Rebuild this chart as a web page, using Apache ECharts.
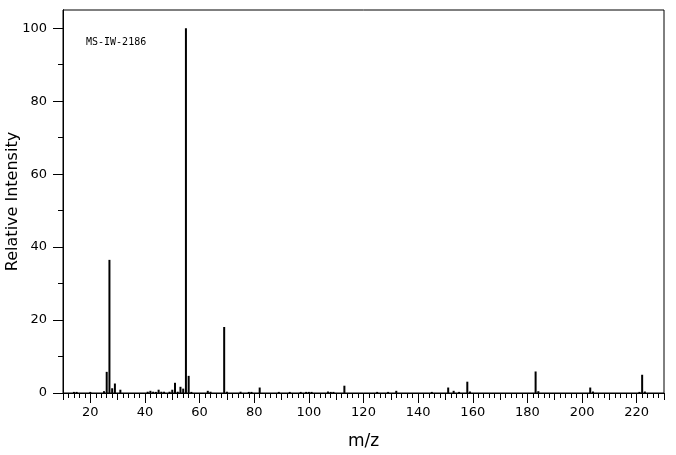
<!DOCTYPE html>
<html>
<head>
<meta charset="utf-8">
<script src="https://cdn.jsdelivr.net/npm/echarts@6/dist/echarts.min.js"></script>
<style>html,body{margin:0;padding:0;background:#fff}#c{width:676px;height:455px}</style>
</head>
<body>
<div id="c"></div>
<script>
// m/z values of the peaks
var mzValues = [14,15,20,25,26,27,28,29,31,41,42,43,44,45,46,47,49,50,51,52,53,54,55,56,57,63,64,69,70,75,78,79,82,89,93,97,99,100,101,107,108,109,113,125,129,132,145,151,153,155,158,159,183,184,203,204,221,222,223];
// relative intensities (%)
var intensities = [0.3,0.3,0.3,0.5,5.8,36.5,1.3,2.6,0.9,0.35,0.6,0.35,0.3,0.9,0.35,0.35,0.35,0.9,2.8,0.35,1.7,1.2,100,4.7,0.3,0.6,0.35,18.1,0.35,0.35,0.3,0.3,1.5,0.3,0.3,0.3,0.3,0.3,0.3,0.4,0.3,0.3,2.0,0.3,0.3,0.6,0.3,1.5,0.6,0.3,3.1,0.4,5.9,0.5,1.5,0.4,0.3,5.0,0.4];
// tick labels
var xTickLabels = [20,40,60,80,100,120,140,160,180,200,220];
var xMidTicks = [10,30,50,70,90,110,130,150,170,190,210,230];
var xMinorTicks = [];
for (var t = 10; t <= 230; t += 2) xMinorTicks.push(t);
var yTickLabels = [0,20,40,60,80,100];
var yMinorTicks = [10,30,50,70,90];
var sampleName = 'MS-IW-2186';

var peaks = mzValues.map(function (m, i) { return [m, intensities[i]]; });

var X_MIN = 10, X_MAX = 230, Y_MIN = 0, Y_MAX = 105;
var font = 'DejaVu Sans';

function xAxisDef(ticks, len, showLabels, withName) {
  var a = {
    type: 'value', min: X_MIN, max: X_MAX, position: 'bottom',
    axisLine: { show: true, onZero: false, lineStyle: { color: '#000', width: 1 } },
    axisTick: { show: true, length: len, customValues: ticks, lineStyle: { color: '#000', width: 1 } },
    axisLabel: showLabels ? { show: true, customValues: xTickLabels, margin: 13, color: '#000', fontFamily: font, fontSize: 13 } : { show: false },
    splitLine: { show: false }
  };
  if (withName) {
    a.name = 'm/z'; a.nameLocation = 'middle'; a.nameGap = 40; a.nameMoveOverlap = false;
    a.nameTextStyle = { color: '#000', fontFamily: font, fontSize: 17 };
  }
  return a;
}
function yAxisDef(ticks, len, showLabels, withName) {
  var a = {
    type: 'value', min: Y_MIN, max: Y_MAX, position: 'left',
    axisLine: { show: true, onZero: false, lineStyle: { color: '#000', width: 1 } },
    axisTick: { show: true, length: len, customValues: ticks, lineStyle: { color: '#000', width: 1 } },
    axisLabel: showLabels ? { show: true, customValues: yTickLabels, margin: 16, color: '#000', fontFamily: font, fontSize: 13 } : { show: false },
    splitLine: { show: false }
  };
  if (withName) {
    a.name = 'Relative Intensity'; a.nameLocation = 'middle'; a.nameGap = 42; a.nameMoveOverlap = false;
    a.nameTextStyle = { color: '#000', fontFamily: font, fontSize: 16 };
  }
  return a;
}

var chart = echarts.init(document.getElementById('c'), null, { renderer: 'canvas' });
chart.setOption({
  animation: false,
  backgroundColor: '#fff',
  grid: { left: 63, right: 12, top: 10, bottom: 62, containLabel: false, outerBoundsMode: 'none', show: true, borderColor: '#000', borderWidth: 1, backgroundColor: 'transparent' },
  xAxis: [
    xAxisDef(xTickLabels, 10, true, true),
    xAxisDef(xMidTicks, 7, false, false),
    xAxisDef(xMinorTicks, 5, false, false)
  ],
  yAxis: [
    yAxisDef(yTickLabels, 10, true, true),
    yAxisDef(yMinorTicks, 5, false, false)
  ],
  graphic: [{
    type: 'text', left: 86, top: 37,
    style: { text: sampleName, fill: '#000', font: '10px "DejaVu Sans Mono"' }
  }],
  series: [{
    type: 'bar', xAxisIndex: 0, yAxisIndex: 0,
    data: peaks, barWidth: 2,
    itemStyle: { color: '#000' },
    silent: true
  }]
});
</script>
</body>
</html>
